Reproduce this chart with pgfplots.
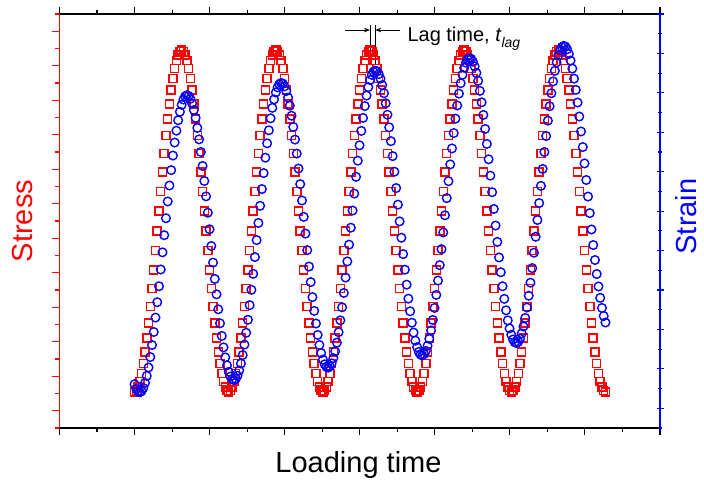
\documentclass[border=0pt]{standalone}
\usepackage{fontspec}
\setmainfont{Liberation Sans}
\usepackage{pgfplots}
\pgfplotsset{compat=1.18}
\usepackage{pgfplotstable}
\usetikzlibrary{arrows.meta}

\pgfplotstableread{
n s e
0 2.10 2.22
1 2.17 1.98
2 2.37 1.84
3 2.70 1.81
4 3.15 1.87
5 3.73 2.03
6 4.42 2.29
7 5.21 2.64
8 6.09 3.07
9 7.05 3.60
10 8.08 4.21
11 9.16 4.87
12 10.28 5.60
13 11.42 6.38
14 12.58 7.19
15 13.72 8.04
16 14.84 8.91
17 15.92 9.78
18 16.95 10.64
19 17.91 11.49
20 18.79 12.30
21 19.58 13.08
22 20.27 13.82
23 20.85 14.48
24 21.30 15.08
25 21.63 15.61
26 21.83 16.04
27 21.90 16.39
28 21.83 16.66
29 21.63 16.82
30 21.30 16.88
31 20.85 16.84
32 20.27 16.70
33 19.58 16.46
34 18.79 16.13
35 17.91 15.73
36 16.95 15.22
37 15.92 14.64
38 14.84 14.00
39 13.72 13.29
40 12.58 12.53
41 11.42 11.75
42 10.28 10.92
43 9.16 10.08
44 8.08 9.23
45 7.05 8.39
46 6.09 7.56
47 5.21 6.78
48 4.42 6.02
49 3.73 5.31
50 3.15 4.67
51 2.70 4.09
52 2.37 3.58
53 2.17 3.18
54 2.10 2.85
55 2.17 2.61
56 2.37 2.47
57 2.70 2.43
58 3.15 2.49
59 3.73 2.65
60 4.42 2.92
61 5.21 3.27
62 6.09 3.70
63 7.05 4.23
64 8.08 4.83
65 9.16 5.49
66 10.28 6.23
67 11.42 7.01
68 12.58 7.82
69 13.72 8.67
70 14.84 9.53
71 15.92 10.40
72 16.95 11.27
73 17.91 12.12
74 18.79 12.93
75 19.58 13.71
76 20.27 14.44
77 20.85 15.10
78 21.30 15.71
79 21.63 16.24
80 21.83 16.67
81 21.90 17.02
82 21.83 17.28
83 21.63 17.44
84 21.30 17.50
85 20.85 17.47
86 20.27 17.33
87 19.58 17.09
88 18.79 16.76
89 17.91 16.35
90 16.95 15.84
91 15.92 15.27
92 14.84 14.63
93 13.72 13.92
94 12.58 13.16
95 11.42 12.37
96 10.28 11.54
97 9.16 10.71
98 8.08 9.86
99 7.05 9.02
100 6.09 8.19
101 5.21 7.40
102 4.42 6.64
103 3.73 5.94
104 3.15 5.30
105 2.70 4.72
106 2.37 4.21
107 2.17 3.80
108 2.10 3.47
109 2.17 3.23
110 2.37 3.10
111 2.70 3.06
112 3.15 3.12
113 3.73 3.28
114 4.42 3.54
115 5.21 3.89
116 6.09 4.33
117 7.05 4.86
118 8.08 5.46
119 9.16 6.12
120 10.28 6.85
121 11.42 7.63
122 12.58 8.45
123 13.72 9.30
124 14.84 10.16
125 15.92 11.03
126 16.95 11.89
127 17.91 12.74
128 18.79 13.56
129 19.58 14.34
130 20.27 15.07
131 20.85 15.73
132 21.30 16.33
133 21.63 16.86
134 21.83 17.29
135 21.90 17.65
136 21.83 17.91
137 21.63 18.07
138 21.30 18.13
139 20.85 18.09
140 20.27 17.95
141 19.58 17.72
142 18.79 17.39
143 17.91 16.98
144 16.95 16.47
145 15.92 15.89
146 14.84 15.25
147 13.72 14.55
148 12.58 13.79
149 11.42 13.00
150 10.28 12.17
151 9.16 11.33
152 8.08 10.48
153 7.05 9.65
154 6.09 8.82
155 5.21 8.03
156 4.42 7.27
157 3.73 6.56
158 3.15 5.92
159 2.70 5.34
160 2.37 4.84
161 2.17 4.43
162 2.10 4.10
163 2.17 3.86
164 2.37 3.72
165 2.70 3.68
166 3.15 3.75
167 3.73 3.91
168 4.42 4.17
169 5.21 4.52
170 6.09 4.95
171 7.05 5.48
172 8.08 6.09
173 9.16 6.75
174 10.28 7.48
175 11.42 8.26
176 12.58 9.07
177 13.72 9.92
178 14.84 10.79
179 15.92 11.66
180 16.95 12.52
181 17.91 13.37
182 18.79 14.18
183 19.58 14.96
184 20.27 15.69
185 20.85 16.36
186 21.30 16.96
187 21.63 17.49
188 21.83 17.92
189 21.90 18.27
190 21.83 18.53
191 21.63 18.70
192 21.30 18.76
193 20.85 18.72
194 20.27 18.58
195 19.58 18.34
196 18.79 18.01
197 17.91 17.61
198 16.95 17.10
199 15.92 16.52
200 14.84 15.88
201 13.72 15.17
202 12.58 14.41
203 11.42 13.63
204 10.28 12.80
205 9.16 11.96
206 8.08 11.11
207 7.05 10.27
208 6.09 9.44
209 5.21 8.65
210 4.42 7.90
211 3.73 7.19
212 3.15 6.55
213 2.70 5.97
214 2.37 5.46
215 2.17 5.05
216 2.10 4.73
217 2.17 4.49
218 2.37 4.35
219 2.70 4.31
220 3.15 4.37
221 3.73 4.53
222 4.42 4.80
223 5.21 5.15
224 6.09 5.58
225 7.05 6.11
226 8.08 6.71
227 9.16 7.37
228 10.28 8.11
229 11.42 8.89
230 12.58 9.70
231 13.72 10.55
232 14.84 11.41
233 15.92 12.28
234 16.95 13.14
235 17.91 14.00
236 18.79 14.81
237 19.58 15.59
238 20.27 16.32
239 20.85 16.98
240 21.30 17.58
241 21.63 18.12
242 21.83 18.55
243 21.90 18.90
244 21.83 19.16
245 21.63 19.32
246 21.30 19.38
247 20.85 19.35
248 20.27 19.21
249 19.58 18.97
250 18.79 18.64
251 17.91 18.23
252 16.95 17.72
253 15.92 17.15
254 14.84 16.51
255 13.72 15.80
256 12.58 15.04
257 11.42 14.25
258 10.28 13.42
259 9.16 12.58
260 8.08 11.74
261 7.05 10.90
262 6.09 10.07
263 5.21 9.28
264 4.42 8.52
265 3.73 7.81
266 3.15 7.18
267 2.70 6.60
268 2.37 6.09
269 2.17 5.68
270 2.10 5.35
}\data

\begin{document}
\begin{tikzpicture}
\pgfplotsset{common/.style={
  scale only axis, width=600.5pt, height=414pt,
  xmin=-43.04, xmax=301.28,
  tick align=outside,
  major tick length=7pt, minor tick length=4pt,
  xticklabels={}, yticklabels={},
}}
\begin{axis}[common,
  ymin=0, ymax=24,
  separate axis lines,
  x axis line style={black, line width=1.1pt, -},
  y axis line style={red, line width=1.1pt, -},
  xtick={-43.04,0,43.04,86.08,129.12,172.16,215.2,258.24,301.28},
  minor xtick={-21.52,21.52,64.56,107.6,150.64,193.68,236.72,279.76},
  xtick pos=both,
  ytick={1,3,...,23}, minor ytick={0,2,...,24},
  ytick pos=left,
  x tick style={black, line width=1.1pt},
  y tick style={red, line width=1.1pt},
]
\addplot[color=red, only marks, mark=square, mark size=4pt, mark options={draw=red, fill=none, line width=1.5pt}] table[x=n, y=s] {\data};
\draw[black, line width=0.9pt] (axis cs:135,23.36) -- (axis cs:135,21.91);
\draw[black, line width=0.9pt] (axis cs:138,23.36) -- (axis cs:138,21.04);
\draw[black, line width=0.9pt, -{Stealth[length=6pt,width=4.5pt]}] (axis cs:120.9,23.07) -- (axis cs:135,23.07);
\draw[black, line width=0.9pt, -{Stealth[length=6pt,width=4.5pt]}] (axis cs:152.4,23.07) -- (axis cs:138,23.07);
\node[anchor=base west, inner sep=0pt, font=\fontsize{20}{24}\selectfont] at (axis cs:156.4,22.39)
  {Lag time, \textit{t}\raisebox{-0.3em}{\fontsize{14}{16}\selectfont\itshape lag}};
\end{axis}
\begin{axis}[common,
  ymin=0, ymax=21,
  axis x line=none,
  axis y line=right,
  y axis line style={blue, line width=1.1pt, -},
  xtick=\empty,
  ytick={1,3,...,21}, minor ytick={0,2,...,20},
  y tick style={blue, line width=1.1pt},
]
\addplot[color=blue, only marks, mark=o, mark size=4.3pt, mark options={draw=blue, fill=none, line width=1.4pt}] table[x=n, y=e] {\data};
\end{axis}
\node[rotate=90, anchor=base, text=red, inner sep=0pt, font=\fontsize{29}{34}\selectfont] at (-26.5pt,207pt) {Stress};
\node[rotate=90, anchor=base, text=blue, inner sep=0pt, font=\fontsize{29}{34}\selectfont] at (637pt,211.5pt) {Strain};
\node[anchor=base, inner sep=0pt, font=\fontsize{29}{34}\selectfont] at (299pt,-45pt) {Loading time};
\pgfresetboundingbox
\path (-59.5pt,-53pt) rectangle (644.5pt,428pt);
\end{tikzpicture}
\end{document}
